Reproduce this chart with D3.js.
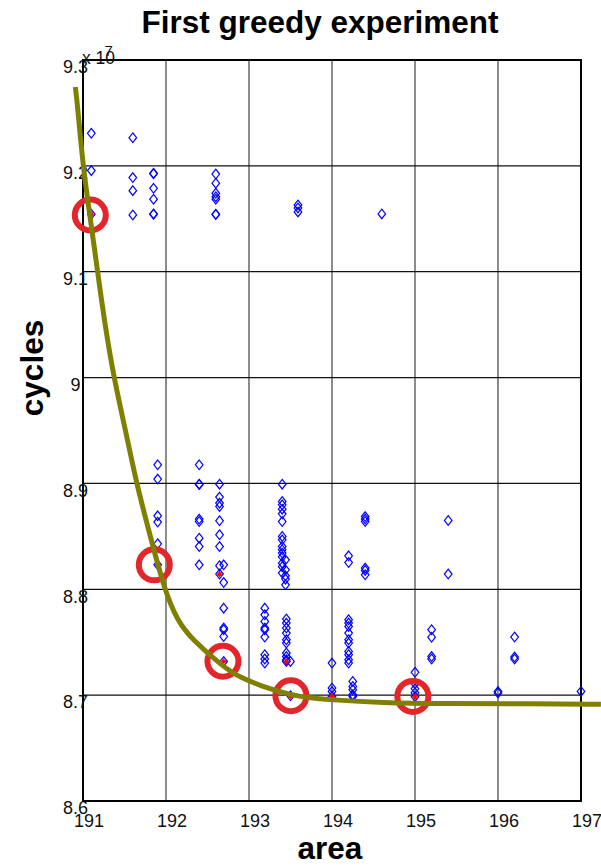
<!DOCTYPE html>
<html>
<head>
<meta charset="utf-8">
<script src="https://cdn.jsdelivr.net/npm/d3@7/dist/d3.min.js"></script>
<style>
  html, body { margin: 0; padding: 0; background: #fff; }
  svg { display: block; font-family: "Liberation Sans", Arial, Helvetica, sans-serif; }
</style>
</head>
<body>
<svg id="chart" width="601" height="866"></svg>
<script>
// Design points: each area value with the cycle counts (x 10^7) measured at it
const columnAreas = [191.10, 191.60, 191.85, 191.90, 192.40, 192.60, 192.645, 192.695,
  193.19, 193.40, 193.44, 193.45, 193.50, 193.59, 194.00, 194.20, 194.25, 194.40,
  194.60, 195.00, 195.20, 195.40, 196.00, 196.20, 197.00];
const columnCycles = [
  [9.2308, 9.1955, 9.1543],
  [9.2266, 9.1889, 9.1766, 9.1536],
  [9.1930, 9.1925, 9.1788, 9.1685, 9.1546, 9.1543],
  [8.9176, 8.9041, 8.8694, 8.8635, 8.8430, 8.8231],
  [8.9176, 8.8993, 8.8990, 8.8663, 8.8640, 8.8483, 8.8404, 8.8231],
  [9.1923, 9.1836, 9.1741, 9.1709, 9.1685, 9.1543, 9.1540],
  [8.8993, 8.8871, 8.8814, 8.8782, 8.8647, 8.8515, 8.8404, 8.8222, 8.8144],
  [8.8231, 8.8064, 8.7822, 8.7634, 8.7618, 8.7554, 8.7318],
  [8.7822, 8.7759, 8.7696, 8.7634, 8.7618, 8.7549, 8.7382, 8.7341, 8.7303],
  [8.8993, 8.8829, 8.8798, 8.8757, 8.8713, 8.8640, 8.8499, 8.8467, 8.8404, 8.8373,
   8.8342, 8.8307, 8.8247, 8.8213, 8.8153],
  [8.8278, 8.8184, 8.8127, 8.8096, 8.8042],
  [8.7719, 8.7681, 8.7634, 8.7587, 8.7523, 8.7492, 8.7398, 8.7365, 8.7334, 8.7318],
  [8.7318, 8.6994],
  [9.1631, 9.1602, 9.1565],
  [8.7303, 8.7067, 8.7035, 8.6988],
  [8.8316, 8.8253, 8.7712, 8.7681, 8.7649, 8.7587, 8.7523, 8.7492, 8.7413, 8.7382, 8.7334, 8.7303],
  [8.7129, 8.7082, 8.7051, 8.7004, 8.6988],
  [8.8687, 8.8663, 8.8640, 8.8200, 8.8178, 8.8137],
  [9.1546],
  [8.7216, 8.7108, 8.7060, 8.7023, 8.6985],
  [8.7618, 8.7547, 8.7365, 8.7341],
  [8.8650, 8.8144],
  [8.7035, 8.7020],
  [8.7549, 8.7360, 8.7341],
  [8.7035]
];

// Points meeting the constraint (red stars)
const validAreas  = [191.10, 191.90, 192.645, 192.695, 193.45, 193.50, 194.00, 195.00];
const validCycles = [9.1543, 8.8231, 8.8144, 8.7318, 8.7318, 8.6994, 8.6988, 8.6985];

// Pareto-front picks (red rings)
const paretoAreas  = [191.088, 191.859, 192.686, 193.505, 194.974];
const paretoCycles = [9.1536, 8.8231, 8.7320, 8.6994, 8.6988];

// Fitted trade-off curve
const fitAreas  = [190.907, 190.928, 191.000, 191.079, 191.176, 191.256, 191.368, 191.530,
  191.642, 191.822, 191.979, 192.135, 192.316, 192.689, 192.894, 193.171, 193.496,
  193.700, 193.977, 194.579, 195.422, 196.265, 197.240];
const fitCycles = [9.2745, 9.2622, 9.1992, 9.1555, 9.1000, 9.0545, 9.0007, 8.9440,
  8.9006, 8.8467, 8.8005, 8.7703, 8.7523, 8.7268, 8.7165, 8.7080, 8.7004,
  8.6976, 8.6957, 8.6928, 8.6919, 8.6919, 8.6914];

const xTicks = [191, 192, 193, 194, 195, 196, 197];
const yTicks = [8.6, 8.7, 8.8, 8.9, 9.0, 9.1, 9.2, 9.3];
const yTickLabels = ["8.6", "8.7", "8.8", "8.9", "9", "9.1", "9.2", "9.3"];

const svg = d3.select("#chart");
svg.append("rect").attr("width", 601).attr("height", 866).attr("fill", "#fff");

const plotLeft = 83, plotRight = 581, plotTop = 60, plotBottom = 801;
const x = d3.scaleLinear().domain([191, 197]).range([plotLeft, plotRight]);
const y = d3.scaleLinear().domain([8.6, 9.3]).range([plotBottom, plotTop]);

// Grid
const grid = svg.append("g");
grid.selectAll("line.v").data(xTicks.slice(1, -1)).join("line")
  .attr("class", "v")
  .attr("x1", d => x(d)).attr("x2", d => x(d))
  .attr("y1", plotTop).attr("y2", plotBottom)
  .attr("stroke", "#707070").attr("stroke-width", 1.6);
grid.selectAll("line.h").data(yTicks.slice(1, -1)).join("line")
  .attr("class", "h")
  .attr("x1", plotLeft).attr("x2", plotRight)
  .attr("y1", d => y(d)).attr("y2", d => y(d))
  .attr("stroke", "#111").attr("stroke-width", 1.3);

// Axes box
svg.append("rect")
  .attr("x", plotLeft).attr("y", plotTop)
  .attr("width", plotRight - plotLeft).attr("height", plotBottom - plotTop)
  .attr("fill", "none").attr("stroke", "#000").attr("stroke-width", 2);

// Tick labels
const tickFont = 18;
svg.append("g").selectAll("text").data(xTicks).join("text")
  .attr("x", d => x(d) + 6).attr("y", plotBottom + 26)
  .attr("text-anchor", "middle").attr("font-size", tickFont).attr("fill", "#111")
  .text(d => d);
svg.append("g").selectAll("text").data(yTicks).join("text")
  .attr("x", 75.5).attr("y", d => y(d) + 13.3)
  .attr("text-anchor", "middle").attr("font-size", tickFont).attr("fill", "#111")
  .text((d, i) => yTickLabels[i]);

// Exponent marker
svg.append("text").attr("x", 82).attr("y", 63.5)
  .attr("font-size", 17.5).attr("fill", "#111").text("x 10");
svg.append("text").attr("x", 104.5).attr("y", 55.5)
  .attr("font-size", 15).attr("fill", "#111").text("7");

// Design points (open diamonds)
const pts = [];
columnAreas.forEach((a, i) => columnCycles[i].forEach(c => pts.push([a, c])));
const diamond = "M0,-4.8L3.8,0L0,4.8L-3.8,0Z";
svg.append("g").selectAll("path").data(pts).join("path")
  .attr("transform", d => `translate(${x(d[0])},${y(d[1])})`)
  .attr("d", diamond)
  .attr("fill", "none").attr("stroke", "#0000ff").attr("stroke-width", 1.2);

// Valid points (red asterisks)
const star = "M-3,0L3,0M0,-3L0,3M-2.2,-2.2L2.2,2.2M-2.2,2.2L2.2,-2.2";
svg.append("g").selectAll("path").data(validAreas.map((a, i) => [a, validCycles[i]])).join("path")
  .attr("transform", d => `translate(${x(d[0])},${y(d[1])})`)
  .attr("d", star)
  .attr("fill", "none").attr("stroke", "#ff0000").attr("stroke-width", 1.2);

// Pareto rings
svg.append("g").selectAll("circle").data(paretoAreas.map((a, i) => [a, paretoCycles[i]])).join("circle")
  .attr("cx", d => x(d[0])).attr("cy", d => y(d[1])).attr("r", 15.5)
  .attr("fill", "none").attr("stroke", "#e2262c").attr("stroke-width", 6);

// Fitted curve
const line = d3.line().x(d => x(d[0])).y(d => y(d[1])).curve(d3.curveBasis);
svg.append("path")
  .datum(fitAreas.map((a, i) => [a, fitCycles[i]]))
  .attr("d", line)
  .attr("fill", "none").attr("stroke", "#808000").attr("stroke-width", 5)
  .attr("stroke-linecap", "butt");

// Titles
svg.append("text").attr("x", 320).attr("y", 33)
  .attr("text-anchor", "middle").attr("font-size", 31.5).attr("font-weight", "bold")
  .attr("fill", "#000").text("First greedy experiment");
svg.append("text").attr("x", 330).attr("y", 859)
  .attr("text-anchor", "middle").attr("font-size", 31.5).attr("font-weight", "bold")
  .attr("fill", "#000").text("area");
svg.append("text")
  .attr("transform", "translate(43,368) rotate(-90)")
  .attr("text-anchor", "middle").attr("font-size", 31.5).attr("font-weight", "bold")
  .attr("fill", "#000").text("cycles");
</script>
</body>
</html>
